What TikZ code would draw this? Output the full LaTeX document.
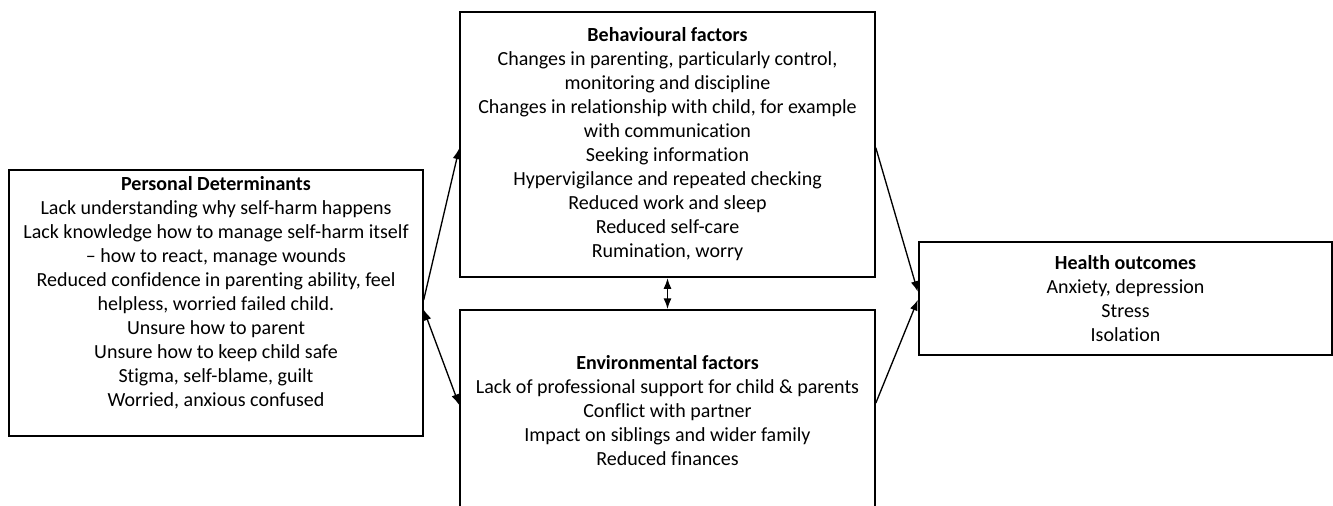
\documentclass[tikz,border=0pt]{standalone}
\usepackage{fontspec}
\setmainfont{Carlito}[Ligatures=NoCommon]
\usetikzlibrary{arrows.meta}

\tikzset{
  factorbox/.style={draw, line width=1.5pt, align=center, inner sep=0pt,
    font=\fontsize{15}{18}\selectfont},
  link/.style={line width=1pt, -{Latex[length=8pt,width=6pt]}},
  dlink/.style={line width=1pt, {Latex[length=8pt,width=6pt]}-{Latex[length=8pt,width=6pt]}}
}

\begin{document}
\begin{tikzpicture}[x=0.75pt, y=-0.75pt]
        \useasboundingbox (0,0) rectangle (1333,506);
        \clip (0,0) rectangle (1333,506);

        % Boxes
        \node[factorbox, minimum width=310pt, minimum height=200pt] (pers) at (216,303)
          {\textbf{Personal Determinants}\\
           Lack understanding why self-harm happens\\
           Lack knowledge how to manage self-harm itself\\
           -- how to react, manage wounds\\
           Reduced confidence in parenting ability, feel\\
           helpless, worried failed child.\\
           Unsure how to parent\\
           Unsure how to keep child safe\\
           Stigma, self-blame, guilt\\
           Worried, anxious confused\\
           \mbox{}};
        \node[factorbox, minimum width=311pt, minimum height=199pt] (beh) at (667.5,144.5)
          {\textbf{Behavioural factors}\\
           Changes in parenting, particularly control,\\
           monitoring and discipline\\
           Changes in relationship with child, for example\\
           with communication\\
           Seeking information\\
           Hypervigilance and repeated checking\\
           Reduced work and sleep\\
           Reduced self-care\\
           Rumination, worry};
        \node[factorbox, minimum width=311pt, minimum height=151.5pt] (env) at (667.5,411)
          {\textbf{Environmental factors}\\
           Lack of professional support for child \& parents\\
           Conflict with partner\\
           Impact on siblings and wider family\\
           Reduced finances};
        \node[factorbox, minimum width=310pt, minimum height=85pt] (health) at (1125.5,298.5)
          {\textbf{Health outcomes}\\
           Anxiety, depression\\
           Stress\\
           Isolation};

        % Links
        \draw[link] ([yshift=2.25pt]pers.east) -- ([yshift=-3pt]beh.west);
        \draw[dlink] ([yshift=-5pt]pers.east) -- ([yshift=4.5pt]env.west);
        \draw[dlink] (beh.south) -- (env.north);
        \draw[link] ([yshift=-2.5pt]beh.east) -- ([yshift=5pt]health.west);
        \draw[link] ([yshift=6pt]env.east) -- ([yshift=-1pt]health.west);
    \end{tikzpicture}
\end{document}
